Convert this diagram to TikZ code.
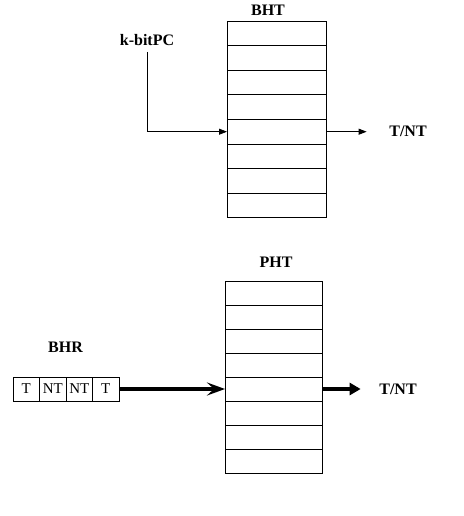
\documentclass[tikz,border=0pt]{standalone}
\usepackage{fontspec}
\setmainfont{Liberation Serif}
\usetikzlibrary{arrows.meta,positioning}

\tikzset{
    row/.style={draw, line width=0.8pt, minimum width=#1, minimum height=24.5pt,
        inner sep=0pt, outer sep=0pt},
    bit/.style={draw, line width=0.8pt, minimum width=26.5pt, minimum height=24pt,
        inner sep=0pt, outer sep=0pt, font=\fontsize{15}{15}\selectfont},
    title/.style={font=\fontsize{16}{16}\selectfont\bfseries, inner sep=3pt},
}

\begin{document}
\begin{tikzpicture}[x=1pt, y=-1pt]
\useasboundingbox (0, 0) rectangle (463, 516);

% branch history table
\foreach \i in {1, ..., 8} {
    \node[row=99pt, minimum height=24.6pt] (bht\i) at (276.5, 21 + 24.6*\i - 12.3) {};
}
\node[title] (bhtlabel) at (268, 10) {BHT};
\node[title] (kpc) at (147, 40) {k-bitPC};
\node[title] (tnt1) at (408, 131) {T/NT};

\draw[line width=0.8pt, -{Triangle[length=8pt, width=6pt]}, shorten <=3pt]
    (kpc.south) |- (bht5.west);
\draw[line width=0.8pt, -{Triangle[length=8pt, width=6pt]}, shorten >=19.5pt]
    (bht5.east) -- (bht5.east -| tnt1.west);

% pattern history table
\foreach \i in {1, ..., 8} {
    \node[row=97pt, minimum height=24pt] (pht\i) at (273.5, 281 + 24*\i - 12) {};
}
\node[title] (phtlabel) at (276, 262.5) {PHT};
\node[title] (bhrlabel) at (65.5, 347) {BHR};
\node[title] (tnt2) at (398, 389) {T/NT};

% history register
\node[bit] (bhr1) at (26.3, 389) {T};
\node[bit, right=0pt of bhr1] (bhr2) {NT};
\node[bit, right=0pt of bhr2] (bhr3) {NT};
\node[bit, right=0pt of bhr3] (bhr4) {T};

\draw[line width=3.5pt, -{Stealth[length=18pt, width=13pt, inset=7pt]}]
    (bhr4.east) -- (pht5.west);
\draw[line width=3.5pt, -{Triangle[length=11pt, width=12pt]}, shorten >=15.5pt]
    (pht5.east) -- (pht5.east -| tnt2.west);
\end{tikzpicture}
\end{document}
